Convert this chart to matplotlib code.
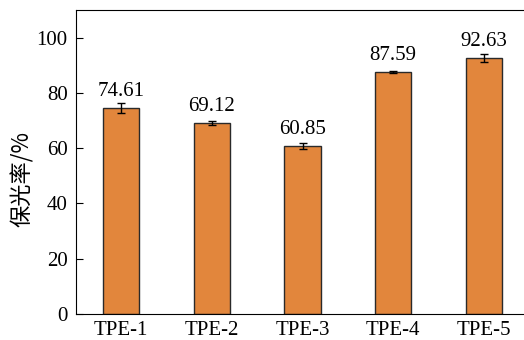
import matplotlib.pyplot as plt

# retention data for the five TPE samples
samples = ["TPE-1", "TPE-2", "TPE-3", "TPE-4", "TPE-5"]
retention = [74.61, 69.12, 60.85, 87.59, 92.63]
errors = [1.8, 0.8, 1.0, 0.5, 1.5]

plt.rcParams['font.family'] = ['Liberation Serif', 'Noto Sans CJK SC']
plt.rcParams['font.size'] = 15


def main():
    fig = plt.figure(figsize=(5.24, 3.4), dpi=100)
    # the frame runs slightly past the right edge of the figure
    ax = fig.add_axes([76 / 524, 26 / 340, 453 / 524, 304 / 340])
    x = range(len(samples))
    ax.bar(x, retention, width=0.4, color="#E2863C", edgecolor="#2a2a2a", linewidth=1.0,
           yerr=errors, capsize=3, error_kw={"elinewidth": 1.0, "capthick": 1.0, "ecolor": "black"})
    for i, v in enumerate(retention):
        ax.text(i, v + 4.3, "%.2f" % v, ha="center", va="baseline", fontsize=15)
    ax.set_xlim(-0.5, 4.5)
    ax.set_ylim(0, 110)
    ax.set_yticks([0, 20, 40, 60, 80, 100])
    ax.set_xticks(list(x))
    ax.set_xticklabels(samples)
    ax.tick_params(axis="x", length=0, pad=5)
    ax.tick_params(axis="y", length=5, direction="in", pad=6)
    ax.set_ylabel("保光率/%", family=['Noto Sans CJK SC'], fontsize=16)
    ax.yaxis.set_label_coords(-0.093, 0.444)
    fig.savefig("out.png", dpi=100)


main()
